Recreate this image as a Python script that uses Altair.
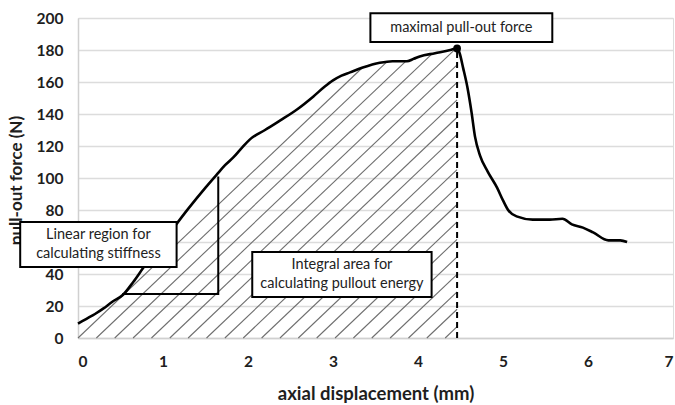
import altair as alt
import numpy as np
import pandas as pd

# ---- data ----
disp = [0.0, 0.1, 0.2, 0.3, 0.4, 0.53, 0.65, 0.77, 1.0, 1.3, 1.5, 1.63, 1.73,
        1.83, 1.93, 2.02, 2.2, 2.38, 2.58, 2.77, 2.9, 3.0, 3.1, 3.2, 3.35,
        3.55, 3.7, 3.87, 3.95, 4.02, 4.2, 4.38, 4.46, 4.49, 4.53, 4.58, 4.63,
        4.67, 4.73, 4.82, 4.93, 5.0, 5.06, 5.16, 5.35, 5.55, 5.7, 5.81, 5.94,
        6.06, 6.24, 6.38, 6.46]
force = [9, 12, 15, 18.5, 22.5, 27, 35, 44, 60, 81, 94, 102, 108,
         113, 119, 124, 130, 136, 143, 151, 157, 161, 164, 166, 169,
         172, 173, 173, 174.5, 176, 178, 180, 181, 178, 169, 157, 141,
         126, 114, 104, 94, 86, 80, 76, 74, 74, 74.5, 71, 69,
         66, 61, 61, 60]

x_ticks = [0, 1, 2, 3, 4, 5, 6, 7]
y_ticks = [0, 20, 40, 60, 80, 100, 120, 140, 160, 180, 200]

# stiffness triangle (data units)
tri_x = [0.52, 1.65, 1.65]
tri_y = [27.5, 27.5, 101]

# annotation boxes (data units) and their texts
box_x1 = [-0.68, 2.05, 3.44]
box_x2 = [1.16, 4.16, 5.58]
box_y1 = [72.5, 53.8, 203]
box_y2 = [44.4, 25.6, 185]
box_text = [["Linear region for", "calculating stiffness"],
            ["Integral area for", "calculating pullout energy"],
            ["maximal pull-out force"]]

FONT = "Lato"
LH = 19
INK = "#1e1e1e"

curve = pd.DataFrame({"x": disp, "y": force, "i": range(len(disp))})
ipk = int(np.argmax(force))
xpk, ypk = disp[ipk], force[ipk]

# hatch lines below the curve up to the peak
hx = np.array(disp[:ipk + 1])
hy = np.array(force[:ipk + 1], dtype=float)
slope = 50.5   # force units per mm (about 45 degrees on screen)
spacing = 0.216
rows = []
n = 0
while n * spacing < xpk:
    x0 = n * spacing
    t = np.linspace(0, xpk - x0, 3000)
    yl = slope * t
    yc = np.interp(x0 + t, hx, hy)
    hit = np.nonzero(yl >= yc)[0]
    j = hit[0] if len(hit) else len(t) - 1
    rows.append({"x": x0, "y": 0.0, "x2": x0 + t[j], "y2": yl[j]})
    n += 1
hatch = pd.DataFrame(rows)

xs = alt.Scale(domain=[0, 7], nice=False)
ys = alt.Scale(domain=[0, 200], nice=False)

x_axis = alt.Axis(
    values=x_ticks, format="d", labelOverlap=False,
    title="axial displacement (mm)", grid=False,
    domain=True, domainColor="#d0d0d0", domainWidth=1.5, ticks=False,
    labelFont=FONT, labelFontSize=15.5, labelFontWeight="bold", labelColor=INK,
    labelPadding=16, titleFont=FONT, titleFontSize=18.5, titleFontWeight="bold",
    titleColor=INK, titleY=55, titleBaseline="middle", zindex=0)
y_axis = alt.Axis(
    values=y_ticks, format="d", labelOverlap=False,
    title="pull-out force (N)", grid=True, gridColor="#dcdcdc",
    gridWidth=1.5, domain=True, domainColor="#d0d0d0", domainWidth=1.5,
    ticks=False, labelFont=FONT, labelFontSize=15.5, labelFontWeight="bold",
    labelColor=INK, labelPadding=15, titleFont=FONT, titleFontSize=17,
    titleFontWeight="bold", titleColor=INK, titleX=-62, titleY=162,
    titleAngle=-90, titleBaseline="middle", titleAlign="center", zindex=0)

X = alt.X("x:Q", scale=xs, axis=x_axis)
Y = alt.Y("y:Q", scale=ys, axis=y_axis)

hatch_layer = alt.Chart(hatch).mark_rule(color="#6e6e6e", strokeWidth=1.1).encode(
    x=X, y=Y, x2="x2:Q", y2="y2:Q")

curve_layer = alt.Chart(curve).mark_line(color="black", strokeWidth=2.6,
                                         interpolate="monotone").encode(
    x=X, y=Y, order="i:Q")

peak_df = pd.DataFrame({"x": [xpk], "y": [0.0], "y2": [ypk]})
dash_layer = alt.Chart(peak_df).mark_rule(color="black", strokeWidth=2,
                                          strokeDash=[6, 4]).encode(
    x=X, y=Y, y2="y2:Q")
pt_df = pd.DataFrame({"x": [xpk], "y": [ypk]})
point_layer = alt.Chart(pt_df).mark_point(filled=True, color="black", size=60,
                                          opacity=1).encode(x=X, y=Y)

tri_df = pd.DataFrame({"x": tri_x, "y": tri_y, "i": range(len(tri_x))})
tri_layer = alt.Chart(tri_df).mark_line(color="black", strokeWidth=2).encode(
    x=X, y=Y, order="i:Q")

boxes = pd.DataFrame({"x": box_x1, "x2": box_x2, "y": box_y1, "y2": box_y2})
box_layer = alt.Chart(boxes).mark_rect(fill="white", stroke="black", strokeWidth=2,
                                       clip=False).encode(
    x=X, x2="x2:Q", y=Y, y2="y2:Q")

labels = pd.DataFrame({"x": [(a + b) / 2 for a, b in zip(box_x1, box_x2)],
                       "y": [(a + b) / 2 for a, b in zip(box_y1, box_y2)],
                       "t": box_text,
                       "nl": [len(t) for t in box_text]})


def text_layer(nlines):
    return alt.Chart(labels).transform_filter(alt.datum.nl == nlines).mark_text(
        font=FONT, fontSize=14.5, color="#222", lineHeight=LH, baseline="middle",
        align="center", clip=False, dy=-(nlines - 1) * LH / 2).encode(
        x=X, y=Y, text="t")


chart = alt.layer(hatch_layer, curve_layer, dash_layer, tri_layer, point_layer,
                  box_layer, text_layer(1), text_layer(2)).properties(
    width=595, height=320,
    autosize=alt.AutoSizeParams(type="none"),
    padding={"left": 78, "top": 18, "right": 2, "bottom": 67},
).configure_view(stroke=None).configure(background="white")

chart.save("out.html", embed_options={"renderer": "svg", "actions": False})
